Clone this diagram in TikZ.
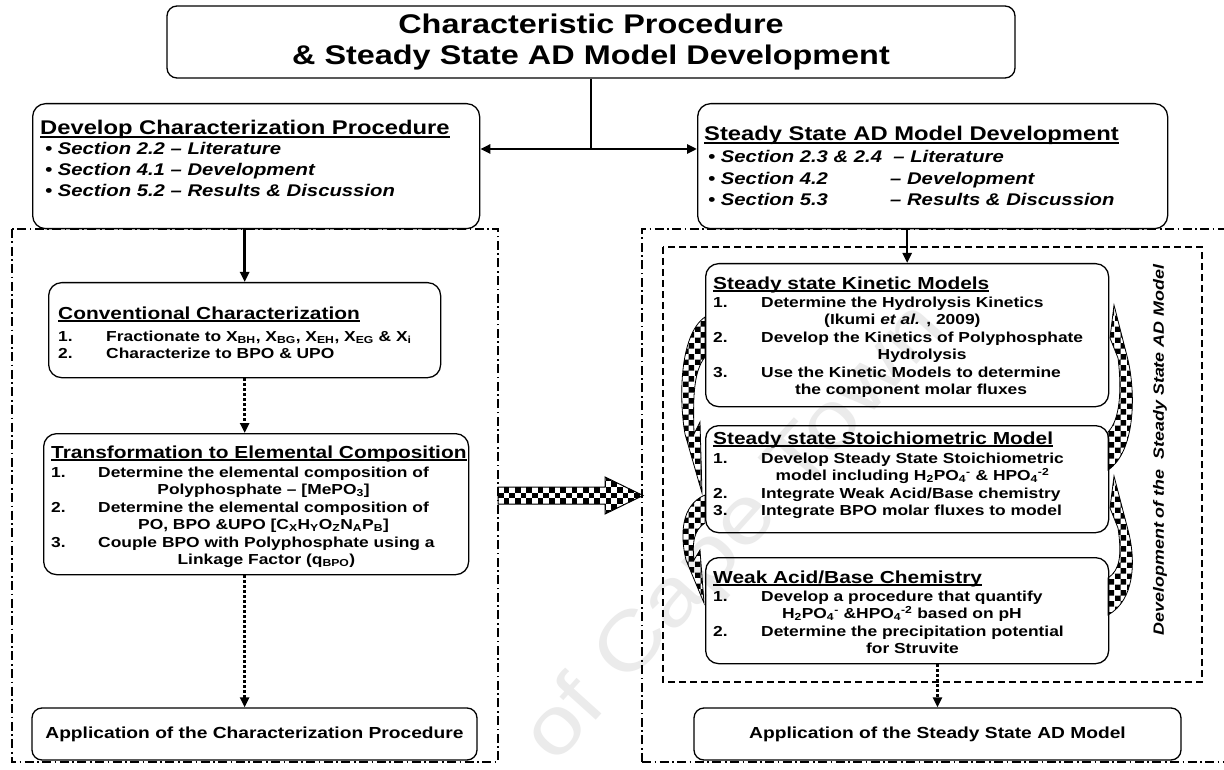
\documentclass[tikz,border=0pt]{standalone}
\usepackage{fontspec}
\setmainfont{Liberation Sans}[FakeStretch=1.2]
\newfontfamily\titlefont{Liberation Sans}[FakeStretch=1.2]
\usetikzlibrary{arrows.meta,patterns}

% thick underline for headings
\newsavebox\hdbox
\newcommand\hdline[1]{\sbox\hdbox{#1}\rlap{\rule[-2.6pt]{\wd\hdbox}{1.5pt}}\usebox\hdbox}

\tikzset{
  rbox/.style={draw, line width=1.3pt, rounded corners=13pt, inner sep=0pt},
  sqbox/.style={draw, line width=1.3pt, rounded corners=10pt, inner sep=0pt},
  stemline/.style={line width=2.6pt},
  conn/.style={line width=2.6pt, -{Triangle[length=10pt,width=9pt]}},
  dotconn/.style={line width=3pt, dash pattern=on 3pt off 2pt, -{Triangle[length=10pt,width=9pt]}},
  frameA/.style={line width=1.6pt, dash pattern=on 9pt off 3.5pt on 1.6pt off 3.5pt},
  frameB/.style={line width=1.2pt, dash pattern=on 7pt off 4pt},
  hdr/.style={font=\fontsize{17.4}{20}\selectfont\bfseries, anchor=base west, inner sep=0pt},
  bighdr/.style={font=\fontsize{19.8}{23}\selectfont\bfseries, anchor=base west, inner sep=0pt},
  itm/.style={font=\fontsize{14.5}{17.5}\selectfont\bfseries, anchor=base west, inner sep=0pt},
  bul/.style={font=\fontsize{16.9}{20}\selectfont\bfseries\itshape, anchor=base west, inner sep=0pt},
  curv/.style={draw, line width=0.8pt, pattern=checkerboard, pattern color=black},
}

\begin{document}
\begin{tikzpicture}[x=1pt, y=-1pt]
\useasboundingbox[fill=white] (0,0) rectangle (1224,770);

% faint watermark
\node[rotate=48, text=black!8, font=\fontsize{80}{90}\selectfont, anchor=base west, inner sep=0pt]
  (wm) at (555,766) {of Cape Town};

% ---------- frames ----------
\draw[frameA] (12,229) rectangle (498,762);
\draw[frameA] (642,762) -- (642,229) -- (1240,229);
\draw[frameA] (642,762) -- (1240,762);
\draw[frameB] (663,247) rectangle (1202,682);

% ---------- title ----------
\node[sqbox, minimum width=848pt, minimum height=72pt, align=center,
      font=\titlefont\fontsize{27}{31}\selectfont\bfseries] (title) at (591,42)
  {Characteristic Procedure\\\& Steady State AD Model Development};

% ---------- top boxes ----------
\node[rbox, anchor=north west, minimum width=447pt, minimum height=125pt] (devL) at (32,103) {};
\node[bighdr] (devLh) at (40,135) {\hdline{Develop Characterization Procedure}};
\node[bul] (devL1) at (45,155) {\textbullet\ Section 2.2 – Literature};
\node[bul] (devL2) at (45,176) {\textbullet\ Section 4.1 – Development};
\node[bul] (devL3) at (45,197) {\textbullet\ Section 5.2 – Results \& Discussion};

\node[rbox, anchor=north west, minimum width=470pt, minimum height=125pt] (devR) at (697,103) {};
\node[bighdr] (devRh) at (704,141) {\hdline{Steady State AD Model Development}};
\node[bul] (devR1a) at (708,163) {\textbullet\ Section 2.3 \& 2.4\ \ – Literature};
\node[bul] (devR2a) at (708,185) {\textbullet\ Section 4.2};
\node[bul] (devR2b) at (890,185) {– Development};
\node[bul] (devR3a) at (708,206) {\textbullet\ Section 5.3};
\node[bul] (devR3b) at (890,206) {– Results \& Discussion};

% ---------- left column ----------
\node[rbox, anchor=north west, minimum width=392pt, minimum height=95pt] (conv) at (48,282) {};
\node[hdr] (convh) at (58,319) {\hdline{Conventional Characterization}};
\node[itm] (conv1) at (58,341) {\begin{tabular}[t]{@{}p{48pt}@{}c@{}}1.&Fractionate to X\textsubscript{BH}, X\textsubscript{BG}, X\textsubscript{EH}, X\textsubscript{EG} \& X\textsubscript{i}\end{tabular}};
\node[itm] (conv2) at (58,358) {\begin{tabular}[t]{@{}p{48pt}@{}c@{}}2.&Characterize to BPO \& UPO\end{tabular}};

\node[rbox, anchor=north west, minimum width=425pt, minimum height=141pt] (trans) at (43,433) {};
\node[hdr] (transh) at (51,458) {\hdline{Transformation to Elemental Composition}};
\node[itm] (trans1) at (51,477) {\begin{tabular}[t]{@{}p{47pt}@{}c@{}}1.&Determine the elemental composition of\\&Polyphosphate – [MePO\textsubscript{3}]\end{tabular}};
\node[itm] (trans2) at (51,512) {\begin{tabular}[t]{@{}p{47pt}@{}c@{}}2.&Determine the elemental composition of\\&PO, BPO \&UPO [C\textsubscript{X}H\textsubscript{Y}O\textsubscript{Z}N\textsubscript{A}P\textsubscript{B}]\end{tabular}};
\node[itm] (trans3) at (51,547) {\begin{tabular}[t]{@{}p{47pt}@{}c@{}}3.&Couple BPO with Polyphosphate using a\\&Linkage Factor (q\textsubscript{BPO})\end{tabular}};

\node[sqbox, minimum width=445pt, minimum height=52pt, font=\fontsize{16}{19}\selectfont\bfseries] (appL) at (254.5,734)
  {Application of the Characterization Procedure};

% ---------- right column ----------
\node[rbox, anchor=north west, minimum width=403pt, minimum height=143pt] (kin) at (705,263) {};
\node[hdr] (kinh) at (713,289) {\hdline{Steady state Kinetic Models}};
\node[itm] (kin1) at (713,307) {\begin{tabular}[t]{@{}p{48pt}@{}c@{}}1.&Determine the Hydrolysis Kinetics\\&(Ikumi \textit{et al.} , 2009)\end{tabular}};
\node[itm] (kin2) at (713,342) {\begin{tabular}[t]{@{}p{48pt}@{}c@{}}2.&Develop the Kinetics of Polyphosphate\\&Hydrolysis\end{tabular}};
\node[itm] (kin3) at (713,377) {\begin{tabular}[t]{@{}p{48pt}@{}c@{}}3.&Use the Kinetic Models to determine\\&the component molar fluxes\end{tabular}};

\node[rbox, anchor=north west, minimum width=403pt, minimum height=107pt] (sto) at (705,425) {};
\node[hdr] (stoh) at (713,444) {\hdline{Steady state Stoichiometric Model}};
\node[itm] (sto1) at (713,463) {\begin{tabular}[t]{@{}p{48pt}@{}c@{}}1.&Develop Steady State Stoichiometric\\&model including H\textsubscript{2}PO\textsubscript{4}\textsuperscript{-} \& HPO\textsubscript{4}\textsuperscript{-2}\end{tabular}};
\node[itm] (sto2) at (713,498) {\begin{tabular}[t]{@{}p{48pt}@{}c@{}}2.&Integrate Weak Acid/Base chemistry\end{tabular}};
\node[itm] (sto3) at (713,515) {\begin{tabular}[t]{@{}p{48pt}@{}c@{}}3.&Integrate BPO molar fluxes to model\end{tabular}};

\node[rbox, anchor=north west, minimum width=403pt, minimum height=106pt] (weak) at (705,557) {};
\node[hdr] (weakh) at (713,583) {\hdline{Weak Acid/Base Chemistry}};
\node[itm] (weak1) at (713,601) {\begin{tabular}[t]{@{}p{48pt}@{}c@{}}1.&Develop a procedure that quantify\\&H\textsubscript{2}PO\textsubscript{4}\textsuperscript{-} \&HPO\textsubscript{4}\textsuperscript{-2} based on pH\end{tabular}};
\node[itm] (weak2) at (713,636) {\begin{tabular}[t]{@{}p{48pt}@{}c@{}}2.&Determine the precipitation potential\\&for Struvite\end{tabular}};

\node[sqbox, minimum width=487pt, minimum height=52pt, font=\fontsize{16}{19}\selectfont\bfseries] (appR) at (937.5,734)
  {Application of the Steady State AD Model};

\node[rotate=90, inner sep=0pt, font=\fontsize{14.9}{18}\selectfont\bfseries\itshape] (side) at (1160,450)
  {Development of the\ \ Steady State AD Model};

% ---------- connectors ----------
\coordinate (junc) at (591,149);
\draw[stemline] (title.south) -- (junc);
\draw[conn] (junc) -- (devL.east |- junc);
\draw[conn] (junc) -- (devR.west |- junc);
\draw[conn] (conv.north |- devL.south) -- (conv.north);
\draw[dotconn] (conv.south) -- (conv.south |- trans.north);
\draw[dotconn] (conv.south |- trans.south) -- (conv.south |- appL.north);
\draw[conn] (kin.north |- devR.south) -- (kin.north);
\draw[dotconn] (appR.north |- weak.south) -- (appR.north);

% ---------- curved checkered arrows ----------
\path[curv] (705,317) .. controls (679,335) and (679,400) .. (685,434) -- (702,493) -- (700,422) -- (694,434)
  .. controls (693,400) and (693,372) .. (705,357) -- cycle;
\path[curv] (705,495) .. controls (681,505) and (680,535) .. (686,560) -- (704,603) -- (700,550) -- (694,560)
  .. controls (692,542) and (694,530) .. (705,523) -- cycle;
\path[curv] (1108,470) .. controls (1135,452) and (1136,395) .. (1128,360) -- (1114,305) -- (1110,338) -- (1118,358)
  .. controls (1122,390) and (1120,420) .. (1108,432) -- cycle;
\path[curv] (1108,615) .. controls (1135,600) and (1136,560) .. (1128,530) -- (1114,476) -- (1110,508) -- (1118,528)
  .. controls (1122,555) and (1120,570) .. (1108,578) -- cycle;

% ---------- broad checkered arrow between the two frames ----------
\begin{scope}
  \clip (498,487) -- (605,487) -- (605,477) -- (643,495.5) -- (605,514) -- (605,504) -- (498,504) -- cycle;
  \foreach \i in {0,...,25}{
    \foreach \j in {0,...,6}{
      \ifodd\numexpr\i+\j\relax
        \fill (498+\i*5.667, 475.667+\j*5.667) rectangle ++(5.667,5.667);
      \fi
    }
  }
\end{scope}
\draw[line width=1pt, line join=miter] (498,487) -- (605,487) -- (605,477) -- (643,495.5) -- (605,514) -- (605,504) -- (498,504) -- cycle;

\end{tikzpicture}
\end{document}
